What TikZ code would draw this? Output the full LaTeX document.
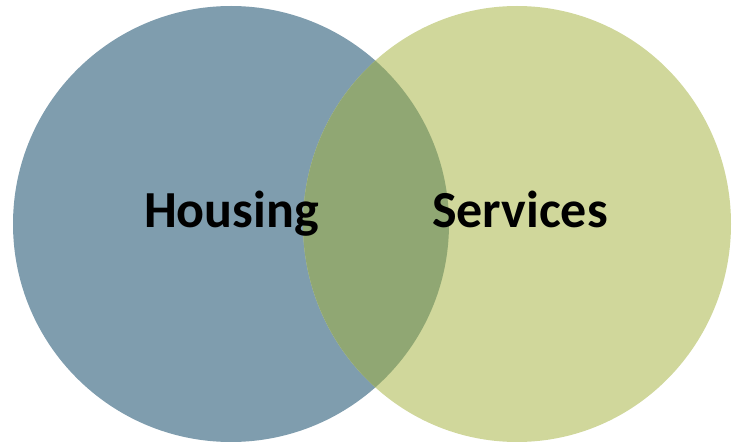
\documentclass[tikz,border=0pt]{standalone}
\usepackage{fontspec}
\setmainfont{Carlito}
\definecolor{housingblue}{HTML}{7F9DAE}
\definecolor{servicesgreen}{HTML}{D0D79B}
\definecolor{overlapgreen}{HTML}{90A773}
\begin{document}
\begin{tikzpicture}[x=1pt,y=1pt,
  label/.style={inner sep=0pt, anchor=base, font=\fontsize{52}{60}\selectfont\bfseries, text=black}]
\useasboundingbox (0,0) rectangle (732,445);
\fill[housingblue] (231,221) ellipse [x radius=218, y radius=218];
\fill[servicesgreen] (517,221) ellipse [x radius=214, y radius=218];
\begin{scope}
  \clip (231,221) ellipse [x radius=218, y radius=218];
  \fill[overlapgreen] (517,221) ellipse [x radius=214, y radius=218];
\end{scope}
\node[label] (housing) at (231.5,217) {Housing};
\node[label] (services) at (520,217) {Services};
\end{tikzpicture}
\end{document}
